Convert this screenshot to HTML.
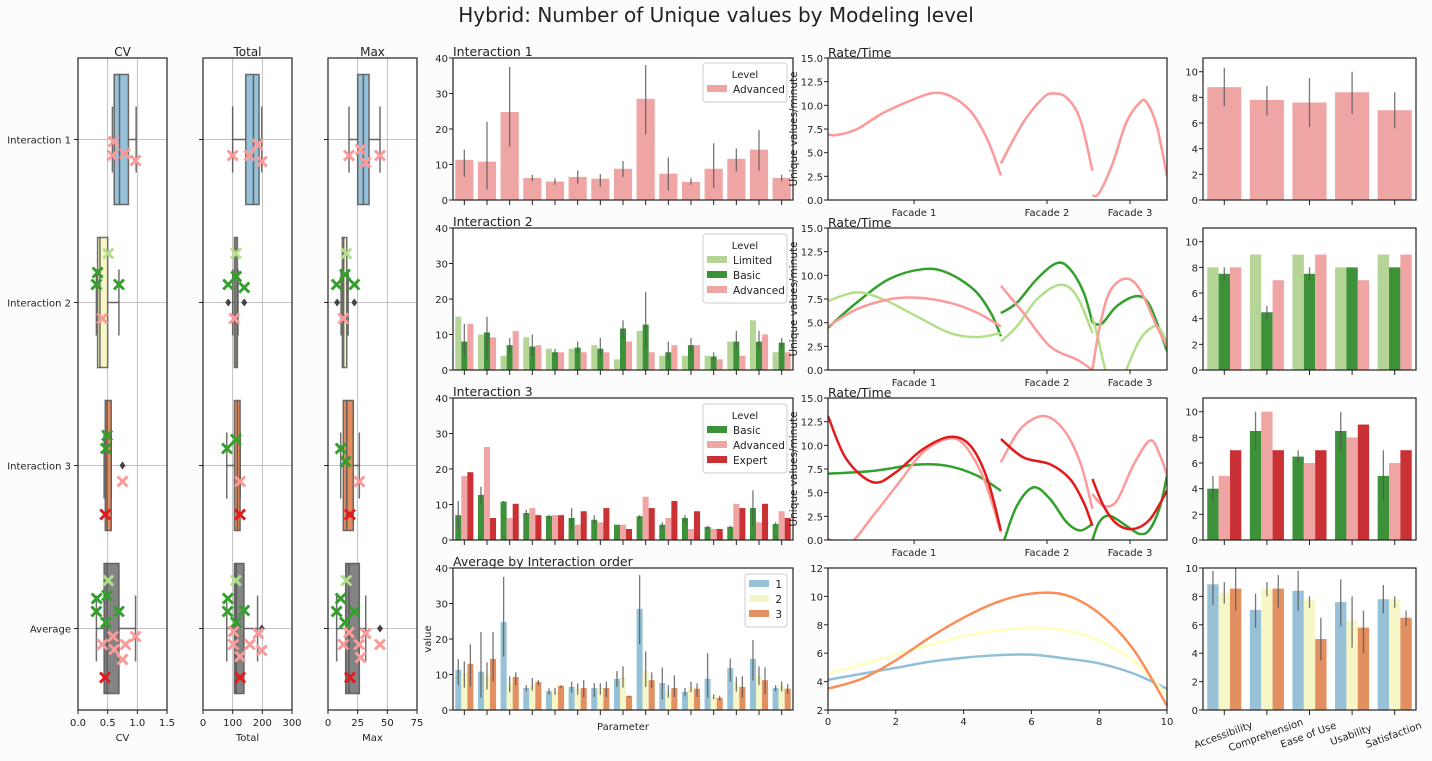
<!DOCTYPE html>
<html><head><meta charset="utf-8">
<style>
html,body{margin:0;padding:0;background:#fcfcfc;}
svg{display:block;font-family:"DejaVu Sans","Liberation Sans",sans-serif;}
text{fill:#222;}
</style></head>
<body>
<svg id="chart" width="1432" height="761" viewBox="0 0 1432 761" xmlns="http://www.w3.org/2000/svg">
<text x="716" y="22" text-anchor="middle" font-size="20">Hybrid: Number of Unique values by Modeling level</text>
</svg>
<script>
// ---------------- DATA ----------------
const boxRows = ["Interaction 1","Interaction 2","Interaction 3","Average"];
const boxColors = ["#97c1d9","#f7f7c6","#e48c5e","#848484"];
// [q1, median, q3, whiskerLow, whiskerHigh] per row
const cvBoxes = [[0.61,0.70,0.85,0.58,0.98],[0.33,0.37,0.50,0.31,0.69],[0.46,0.49,0.56,0.44,0.56],[0.44,0.49,0.69,0.31,0.97]];
const totalBoxes = [[144,170,189,100,198],[106,111,116,100,118],[106,116,125,80,125],[106,112,138,80,184]];
const maxBoxes = [[25,29.8,34.6,17.7,43.8],[12.1,13.2,15.8,11,17],[12.9,15.8,21.3,10.7,26.4],[14.9,17.7,26.4,7.3,31.8]];
const cvOutliers = [[2,0.75]];
const totalOutliers = [[1,85],[1,139],[3,198]];
const maxOutliers = [[1,7.7],[1,22.2],[3,43.8]];
const cvLimited = [[1,0.51,-49],[3,0.51,-48]];
const cvBasic = [[1,0.33,-30],[1,0.31,-18],[1,0.69,-18],[2,0.49,-30],[2,0.47,-17],[3,0.315,-30],[3,0.49,-33],[3,0.31,-17],[3,0.69,-17],[3,0.47,-6]];
const cvAdvanced = [[0,0.60,2],[0,0.58,16],[0,0.79,14],[0,0.97,21],[1,0.41,16],[2,0.75,16],[3,0.59,8],[3,0.41,16],[3,0.61,21],[3,0.80,16],[3,0.97,8],[3,0.75,31]];
const cvExpert = [[2,0.46,49],[3,0.455,49]];
const totalLimited = [[1,111,-49],[3,111,-48]];
const totalBasic = [[1,112,-26],[1,85,-18],[1,139,-15],[2,111,-26],[2,81,-17],[3,84,-30],[3,83,-17],[3,139,-18],[3,111,-6]];
const totalAdvanced = [[0,100,16],[0,156,16],[0,184,5],[0,198,22],[1,106,16],[2,125,16],[3,103,3],[3,102,16],[3,125,28],[3,158,16],[3,186,5],[3,198,22]];
const totalExpert = [[2,125,49],[3,125,49]];
const maxLimited = [[1,15.4,-49],[3,15.4,-48]];
const maxBasic = [[1,14.3,-28],[1,7.3,-18],[1,22.2,-18],[2,10.7,-17],[2,14.9,-4],[3,10.7,-30],[3,7.3,-17],[3,22.2,-17],[3,14.3,-6]];
const maxAdvanced = [[0,17.7,16],[0,27.5,10],[0,31.8,23],[0,43.8,16],[1,12.9,16],[2,26.4,16],[3,17.7,4],[3,12.9,16],[3,26.2,16],[3,27.5,29],[3,31.8,5],[3,43.8,16]];
const maxExpert = [[2,18.5,49],[3,18.5,49]];

const i1Adv = [11.3,10.8,24.8,6.2,5.2,6.5,6.0,8.8,28.5,7.4,5.1,8.8,11.6,14.2,6.2];
const i1AdvErr = [[6.5,14.2],[3,22],[15,37.5],[5.3,7.1],[4.3,6.1],[4.6,8.3],[3.8,7.3],[6.5,11],[18.5,38],[2.7,12],[4.3,6.1],[3.4,16],[8,14.5],[8.3,19.7],[5.3,7.1]];
const i2Lim = [15,10,4,9.2,6,6,7,3,11,4,4,4,8,14,5];
const i2Bas = [8,10.6,7,6.6,5,6.3,6,11.7,12.8,5,7,3.8,8,8,7.7];
const i2BasErr = [[4,13],[3,15],[5,9],[4,10],[4,6],[5,8],[4,9],[9,14],[6,22],[3,8],[5,9],[3,5],[6,11],[6,11],[6,9]];
const i2Adv = [13,9.2,11,7,5,5,5,8,5,7,7,3,4,10,5];
const i3Bas = [7,12.7,10.8,7.6,6.8,6.2,5.7,4.3,6.7,4.3,6.2,3.7,3.7,9,4.5];
const i3BasErr = [[3,11],[10,15],[10.5,11],[7,8.5],[6,7],[3,9],[4.5,7],[4.3,4.3],[6,7],[3,5],[5,7],[3,4],[3.5,4],[4,14],[4,5]];
const i3Adv = [18,26.2,6.2,9,7,4.3,5,4.3,12.2,6.2,3.1,3.1,10.2,5,8.1];
const i3Exp = [19.1,6.2,10.2,7,7,8.1,9,3.1,9,11,8.1,3.1,9,10.2,6.2];
const avg1 = [11.3,10.8,24.8,6.2,5.3,6.5,6.2,8.8,28.5,7.6,5.1,8.8,11.8,14.4,6.2];
const avg1Err = [[7,14.3],[3.5,22],[15,37.5],[5.3,7],[4.3,6.1],[4.9,8],[3.7,7.6],[6.5,11],[18.5,38],[3,12],[3.8,6.2],[3.4,16],[8,14.5],[8.3,19.7],[5.3,7]];
const avg2 = [10.4,10.1,7.3,7.2,5.4,6.0,6.2,9.3,11.1,5.4,6.5,3.8,7.4,9.6,6.8];
const avg2Err = [[6.3,13.7],[5.8,13.4],[5,9.5],[5.5,9],[4.3,6.2],[4.3,7.5],[4.3,7.5],[6.3,12.3],[6.5,16.5],[3.5,7],[5,8],[3,4.4],[5.2,9.3],[7,12.3],[5.3,8]];
const avg3 = [13,14.4,9.3,7.9,6.8,6.2,6.2,4,8.4,6.2,6,3.4,6.5,8.4,6];
const avg3Err = [[6.6,18.5],[8,22],[7,10.6],[7,8.4],[6.2,7],[3.5,8.4],[3.7,8],[3.4,4],[6.3,10.6],[3.7,9.8],[3.7,7.5],[2.7,4],[3.5,9.5],[4.4,12],[4.5,7.3]];
const barTicks = [0,10,20,30,40];

const facadeLabels = ["Facade 1","Facade 2","Facade 3"];
const facadePos = [0.254,0.646,0.891];
const rateTicks = [0,2.5,5,7.5,10,12.5,15];
const r1Adv = [
 [[0,6.93],[0.025,6.86],[0.084,7.46],[0.163,9.2],[0.25,10.6],[0.31,11.3],[0.36,11.0],[0.42,9.4],[0.47,6.4],[0.51,2.6]],
 [[0.51,3.86],[0.576,8.2],[0.635,10.8],[0.665,11.25],[0.704,10.8],[0.744,8.5],[0.78,3.1]],
 [[0.78,0.46],[0.80,0.74],[0.84,3.9],[0.88,8.2],[0.92,10.3],[0.94,10.3],[0.97,7.8],[1.0,2.5]]];
const r2Bas = [
 [[0,4.46],[0.084,7.1],[0.18,9.6],[0.28,10.65],[0.35,10.3],[0.43,8.5],[0.48,6.05],[0.51,3.57]],
 [[0.51,6.0],[0.557,7.1],[0.616,9.6],[0.675,11.3],[0.714,10.65],[0.754,8.2],[0.78,5.0]],
 [[0.78,5.0],[0.808,4.9],[0.852,6.75],[0.911,7.8],[0.95,6.75],[1.0,2.0]]];
const r2Lim = [
 [[0,7.3],[0.084,8.2],[0.163,7.46],[0.26,5.7],[0.36,3.9],[0.44,3.47],[0.51,3.9]],
 [[0.51,3.0],[0.557,4.6],[0.616,7.46],[0.685,9.0],[0.734,7.8],[0.78,3.9]],
 [[0.78,5.5],[0.793,3.9],[0.818,0],[0.84,-2.5],[0.86,-2.2],[0.88,0],[0.92,3.2],[0.96,4.6],[0.98,4.3],[1.0,2.9]]];
const r2Adv = [
 [[0,4.6],[0.084,6.4],[0.18,7.46],[0.26,7.64],[0.36,7.1],[0.44,6.05],[0.51,4.6]],
 [[0.51,8.9],[0.576,6.05],[0.655,2.5],[0.734,1.1],[0.78,0]],
 [[0.78,0],[0.80,4.3],[0.83,8.2],[0.877,9.65],[0.92,8.5],[0.97,4.6],[1.0,2.5]]];
const r3Bas = [
 [[0,7.0],[0.133,7.3],[0.26,7.96],[0.35,7.85],[0.44,6.8],[0.51,5.2]],
 [[0.52,0],[0.557,3.6],[0.606,5.56],[0.655,4.33],[0.704,1.87],[0.744,1.0],[0.78,1.7]],
 [[0.78,0],[0.80,1.87],[0.83,2.57],[0.88,1.5],[0.92,0.63],[0.95,1.16],[0.98,3.6],[1.0,6.8]]];
const r3Exp = [
 [[0,13.1],[0.054,8.56],[0.133,6.1],[0.2,7.15],[0.28,9.6],[0.36,10.9],[0.42,9.96],[0.47,6.44],[0.51,0.99]],
 [[0.51,10.67],[0.576,8.73],[0.655,8.0],[0.714,6.44],[0.754,3.98],[0.78,1.5]],
 [[0.78,6.44],[0.813,3.6],[0.852,1.7],[0.90,1.16],[0.95,2.2],[1.0,5.2]]];
const r3Adv = [
 [[0,0.1],[0.064,-0.3],[0.133,2.57],[0.21,6.1],[0.28,9.26],[0.35,10.67],[0.40,10.14],[0.46,6.44],[0.51,0.8]],
 [[0.51,8.2],[0.567,11.7],[0.635,13.1],[0.694,11.7],[0.744,8.2],[0.78,3.3]],
 [[0.78,4.86],[0.813,3.6],[0.852,4.15],[0.90,7.85],[0.95,10.5],[0.98,8.9],[1.0,6.8]]];
const lineX = [0,1,2,3,4,5,6,7,8,9,10];
const line1 = [4.13,4.55,4.97,5.4,5.68,5.86,5.9,5.63,5.28,4.58,3.5];
const line2 = [4.6,5.2,5.9,6.6,7.2,7.6,7.8,7.6,6.9,5.5,3.1];
const line3 = [3.5,4.2,5.5,7.1,8.5,9.6,10.2,10.1,8.8,6.3,2.3];
const lineXTicks = [0,2,4,6,8,10];
const lineYTicks = [2,4,6,8,10,12];

const metrics = ["Accessibility","Comprehension","Ease of Use","Usability","Satisfaction"];
const m1Adv = [8.8,7.8,7.6,8.4,7.0];
const m1AdvErr = [[7.3,10.3],[6.6,8.9],[5.7,9.5],[6.7,10],[5.6,8.4]];
const m2Lim = [8,9,9,8,9];
const m2Bas = [7.5,4.5,7.5,8,8];
const m2BasErr = [[7,8],[4,5],[7,8],null,null];
const m2Adv = [8,7,9,7,9];
const m3Bas = [4,8.5,6.5,8.5,5];
const m3BasErr = [[3,5],[7,10],[6,7],[7,10],[3,7]];
const m3Adv = [5,10,6,8,6];
const m3Exp = [7,7,7,9,7];
const m4a = [8.85,7.05,8.4,7.6,7.8];
const m4aErr = [[7.4,9.8],[5.8,8.2],[7,9.8],[5.9,9.2],[6.8,8.8]];
const m4b = [8.25,8.55,7.75,6.3,7.75];
const m4bErr = [[7.5,9],[8,9],[7.2,8],[4.4,8],[7.2,8]];
const m4c = [8.55,8.55,5.0,5.8,6.5];
const m4cErr = [[7,10],[7.2,9.5],[3.5,6.5],[4,7],[5.9,7]];
const mTicksA = [0,2,4,6,8,10];

// ---------------- DRAWING ----------------
const svg = document.getElementById('chart');
const NS = 'http://www.w3.org/2000/svg';
function mk(tag, attrs, parent) {
  const e = document.createElementNS(NS, tag);
  for (const k in attrs) e.setAttribute(k, attrs[k]);
  (parent || svg).appendChild(e);
  return e;
}
function txt(x, y, s, size, anchor, parent) {
  const t = mk('text', {x: x, y: y, 'font-size': size, 'text-anchor': anchor || 'start'}, parent);
  t.textContent = s;
  return t;
}
function lin(d0, d1, r0, r1) { return v => r0 + (v - d0) / (d1 - d0) * (r1 - r0); }
function frame(g, x0, y0, x1, y1) {
  const r = mk('rect', {x: x0, y: y0, width: x1 - x0, height: y1 - y0, fill: 'none', stroke: '#222', 'stroke-width': 1.2}, g);
  
  
}
const PINK = '#fb9a99', GREEN = '#33a02c', LGREEN = '#b2df8a', RED = '#e31a1c';

const BY0 = 58, BY1 = 710;
const rowY = i => BY0 + 81.5 + 163 * i;
function boxPanel(name, x0, x1, dmax, ticks, fmt, boxes, outliers, mks, showLabels) {
  const g = mk('g', {});
  
  
  const sx = lin(0, dmax, x0, x1);
  mk('rect', {x: x0, y: BY0, width: x1 - x0, height: BY1 - BY0, fill: '#fff'}, g);
  ticks.forEach(t => {
    mk('line', {x1: sx(t), x2: sx(t), y1: BY0, y2: BY1, stroke: '#b0b0b0', 'stroke-width': 0.8}, g);
    mk('line', {x1: sx(t), x2: sx(t), y1: BY1, y2: BY1 + 4, stroke: '#222'}, g);
    const tl = txt(sx(t), BY1 + 16, fmt(t), 10, 'middle', g);
    
    
  });
  boxRows.forEach((r, i) => {
    mk('line', {x1: x0, x2: x1, y1: rowY(i), y2: rowY(i), stroke: '#b0b0b0', 'stroke-width': 0.8}, g);
    mk('line', {x1: x0 - 4, x2: x0, y1: rowY(i), y2: rowY(i), stroke: '#222'}, g);
    if (showLabels) {
      const yl = txt(x0 - 7, rowY(i) + 4, r, 10, 'end', g);
      
      
    }
  });
  boxes.forEach((b, i) => {
    const cy = rowY(i);
    const bg = mk('g', {stroke: '#555', 'stroke-width': 1.5, 'stroke-opacity': 0.85}, g);
    
    
    mk('line', {x1: sx(b[3]), x2: sx(b[0]), y1: cy, y2: cy}, bg);
    mk('line', {x1: sx(b[2]), x2: sx(b[4]), y1: cy, y2: cy}, bg);
    mk('line', {x1: sx(b[3]), x2: sx(b[3]), y1: cy - 33, y2: cy + 33}, bg);
    mk('line', {x1: sx(b[4]), x2: sx(b[4]), y1: cy - 33, y2: cy + 33}, bg);
    mk('rect', {x: sx(b[0]), y: cy - 65, width: sx(b[2]) - sx(b[0]), height: 130, fill: boxColors[i]}, bg);
    mk('line', {x1: sx(b[1]), x2: sx(b[1]), y1: cy - 65, y2: cy + 65}, bg);
  });
  outliers.forEach(o => {
    const d = mk('path', {d: `M${sx(o[1])},${rowY(o[0]) - 4}l3,4l-3,4l-3,-4z`, fill: '#444'}, g);
    
    
  });
  mks.forEach(set => {
    set.pts.forEach(p => {
      const x = sx(p[1]), y = rowY(p[0]) + p[2];
      const m = mk('path', {d: `M${x - 5},${y - 5}L${x + 5},${y + 5}M${x - 5},${y + 5}L${x + 5},${y - 5}`, stroke: set.c, 'stroke-width': 3}, g);
      
      
    });
  });
  frame(g, x0, BY0, x1, BY1);
  const t = txt((x0 + x1) / 2, 56, name, 12, 'middle', g);
  
  
  const xl = txt((x0 + x1) / 2, 741, name, 10, 'middle', g);
  
  
}
boxPanel('CV', 78, 167, 1.5, [0, 0.5, 1, 1.5], t => t.toFixed(1), cvBoxes, cvOutliers,
  [{pts: cvLimited, c: LGREEN}, {pts: cvBasic, c: GREEN}, {pts: cvAdvanced, c: PINK}, {pts: cvExpert, c: RED}], true);
boxPanel('Total', 203, 292, 300, [0, 100, 200, 300], String, totalBoxes, totalOutliers,
  [{pts: totalLimited, c: LGREEN}, {pts: totalBasic, c: GREEN}, {pts: totalAdvanced, c: PINK}, {pts: totalExpert, c: RED}], false);
boxPanel('Max', 328, 417, 75, [0, 25, 50, 75], String, maxBoxes, maxOutliers,
  [{pts: maxLimited, c: LGREEN}, {pts: maxBasic, c: GREEN}, {pts: maxAdvanced, c: PINK}, {pts: maxExpert, c: RED}], false);

function barPanel(name, x0, x1, y0, y1, ymax, ticks, series, cats) {
  const g = mk('g', {});
  
  
  mk('rect', {x: x0, y: y0, width: x1 - x0, height: y1 - y0, fill: '#fff'}, g);
  const sy = lin(0, ymax, y1, y0);
  const n = cats;
  const cw = (x1 - x0) / n;
  const bw = cw * 0.8 / series.length;
  ticks.forEach(t => {
    mk('line', {x1: x0 - 4, x2: x0, y1: sy(t), y2: sy(t), stroke: '#222'}, g);
    const tl = txt(x0 - 5, sy(t) + 4, String(t), 10, 'end', g);
    
    
  });
  for (let i = 0; i < n; i++) {
    const cx = x0 + cw * (i + 0.5);
    mk('line', {x1: cx, x2: cx, y1: y1, y2: y1 + 5, stroke: '#222'}, g);
  }
  series.forEach((s, si) => {
    s.vals.forEach((v, i) => {
      const bx = x0 + cw * i + cw * 0.1 + bw * si;
      const r = mk('rect', {x: bx, y: sy(v), width: bw, height: y1 - sy(v), fill: s.c}, g);
      
      
      if (s.err && s.err[i]) {
        const e = mk('line', {x1: bx + bw / 2, x2: bx + bw / 2, y1: sy(s.err[i][0]), y2: sy(s.err[i][1]), stroke: '#555', 'stroke-width': 1.3, 'stroke-opacity': 0.8}, g);
        
        
      }
    });
  });
  frame(g, x0, y0, x1, y1);
  return g;
}
function legend(x, y, w, title, items) {
  const g = mk('g', {});
  
  
  const h = (title ? 20 : 4) + items.length * 15 + 4;
  mk('rect', {x: x, y: y, width: w, height: h, rx: 3, fill: '#fff', 'fill-opacity': 0.85, stroke: '#ccc'}, g);
  let yy = y + 4;
  if (title) { txt(x + w / 2, y + 15, title, 10, 'middle', g); yy = y + 20; }
  items.forEach(it => {
    const p = mk('rect', {x: x + 4, y: yy + 2, width: 20, height: 7, fill: it.c}, g);
    
    
    const t = txt(title ? x + 30 : x + w - 5, yy + 10, it.l, 10.5, title ? 'start' : 'end', g);
    
    
    yy += 15;
  });
}
const BP = '#f0a5a5', BG = '#3d9139', BLG = '#b5d596', BR = '#c93135', BB = '#97c1d6', BYl = '#f6f6c6', BO = '#e28f62';
const MX0 = 453, MX1 = 793;
const rows = [[58, 200], [228, 370], [398, 540], [568, 710]];
barPanel('interaction-1-bars', MX0, MX1, rows[0][0], rows[0][1], 40, barTicks, [{vals: i1Adv, err: i1AdvErr, c: BP}], 15);
barPanel('interaction-2-bars', MX0, MX1, rows[1][0], rows[1][1], 40, barTicks, [{vals: i2Lim, c: BLG}, {vals: i2Bas, err: i2BasErr, c: BG}, {vals: i2Adv, c: BP}], 15);
barPanel('interaction-3-bars', MX0, MX1, rows[2][0], rows[2][1], 40, barTicks, [{vals: i3Bas, err: i3BasErr, c: BG}, {vals: i3Adv, c: BP}, {vals: i3Exp, c: BR}], 15);
barPanel('average-bars', MX0, MX1, rows[3][0], rows[3][1], 40, barTicks, [{vals: avg1, err: avg1Err, c: BB}, {vals: avg2, err: avg2Err, c: BYl}, {vals: avg3, err: avg3Err, c: BO}], 15);
[['Interaction 1', 0], ['Interaction 2', 1], ['Interaction 3', 2], ['Average by Interaction order', 3]].forEach(a => {
  const t = txt(MX0, rows[a[1]][0] - 2, a[0], 12.5, 'start');
  
  
});
legend(703, 63, 84, 'Level', [{l: 'Advanced', c: BP}]);
legend(703, 234, 84, 'Level', [{l: 'Limited', c: BLG}, {l: 'Basic', c: BG}, {l: 'Advanced', c: BP}]);
legend(703, 404, 84, 'Level', [{l: 'Basic', c: BG}, {l: 'Advanced', c: BP}, {l: 'Expert', c: BR}]);
legend(745, 574, 42, '', [{l: '1', c: BB}, {l: '2', c: BYl}, {l: '3', c: BO}]);
const pl = txt(623, 730, 'Parameter', 10, 'middle');


const vl = mk('text', {x: 0, y: 0, 'font-size': 10, 'text-anchor': 'middle', transform: 'translate(431,639) rotate(-90)'});
vl.textContent = 'value';



function smooth(pts) {
  let d = `M${pts[0][0]},${pts[0][1]}`;
  for (let i = 0; i < pts.length - 1; i++) {
    const p0 = pts[Math.max(0, i - 1)], p1 = pts[i], p2 = pts[i + 1], p3 = pts[Math.min(pts.length - 1, i + 2)];
    const c1 = [p1[0] + (p2[0] - p0[0]) / 6, p1[1] + (p2[1] - p0[1]) / 6];
    const c2 = [p2[0] - (p3[0] - p1[0]) / 6, p2[1] - (p3[1] - p1[1]) / 6];
    d += `C${c1[0]},${c1[1]} ${c2[0]},${c2[1]} ${p2[0]},${p2[1]}`;
  }
  return d;
}
const RX0 = 828, RX1 = 1167;
function ratePanel(ri, curves) {
  const y0 = rows[ri][0], y1 = rows[ri][1];
  const g = mk('g', {});
  
  
  mk('rect', {x: RX0, y: y0, width: RX1 - RX0, height: y1 - y0, fill: '#fff'}, g);
  const sx = lin(0, 1, RX0, RX1), sy = lin(0, 15, y1, y0);
  const cid = 'clip' + ri;
  const cp = mk('clipPath', {id: cid}, g);
  mk('rect', {x: RX0, y: y0, width: RX1 - RX0, height: y1 - y0}, cp);
  rateTicks.forEach(t => {
    mk('line', {x1: RX0 - 4, x2: RX0, y1: sy(t), y2: sy(t), stroke: '#222'}, g);
    const tl = txt(RX0 - 5, sy(t) + 4, t.toFixed(1), 10, 'end', g);
    
    
  });
  facadeLabels.forEach((f, i) => {
    mk('line', {x1: sx(facadePos[i]), x2: sx(facadePos[i]), y1: y1, y2: y1 + 4, stroke: '#222'}, g);
    const tl = txt(sx(facadePos[i]), y1 + 16, f, 10, 'middle', g);
    
    
  });
  curves.forEach(c => {
    c.segs.forEach(seg => {
      const p = mk('path', {d: smooth(seg.map(q => [sx(q[0]), sy(q[1])])), fill: 'none', stroke: c.c, 'stroke-width': 2.5, 'clip-path': `url(#${cid})`}, g);
      
      
    });
  });
  frame(g, RX0, y0, RX1, y1);
  const t = txt(RX0, y0 - 1, 'Rate/Time', 12.5, 'start', g);
  
  
  const yl = mk('text', {x: 0, y: 0, 'font-size': 10.5, 'text-anchor': 'middle', transform: `translate(797,${(y0 + y1) / 2}) rotate(-90)`}, g);
  yl.textContent = 'Unique values/minute';
  
  
}
ratePanel(0, [{segs: r1Adv, c: PINK}]);
ratePanel(1, [{segs: r2Bas, c: GREEN}, {segs: r2Lim, c: LGREEN}, {segs: r2Adv, c: PINK}]);
ratePanel(2, [{segs: r3Bas, c: GREEN}, {segs: r3Adv, c: PINK}, {segs: r3Exp, c: RED}]);

(function () {
  const y0 = rows[3][0], y1 = rows[3][1];
  const g = mk('g', {});
  
  
  mk('rect', {x: RX0, y: y0, width: RX1 - RX0, height: y1 - y0, fill: '#fff'}, g);
  const sx = lin(0, 10, RX0, RX1), sy = lin(2, 12, y1, y0);
  lineYTicks.forEach(t => {
    mk('line', {x1: RX0 - 4, x2: RX0, y1: sy(t), y2: sy(t), stroke: '#222'}, g);
    const tl = txt(RX0 - 5, sy(t) + 4, String(t), 10, 'end', g);
    
    
  });
  lineXTicks.forEach(t => {
    mk('line', {x1: sx(t), x2: sx(t), y1: y1, y2: y1 + 4, stroke: '#222'}, g);
    const tl = txt(sx(t), y1 + 15, String(t), 10, 'middle', g);
    
    
  });
  [[line1, '#91bfdb'], [line2, '#ffffbf'], [line3, '#fc8d59']].forEach(a => {
    const p = mk('path', {d: smooth(lineX.map((x, i) => [sx(x), sy(a[0][i])])), fill: 'none', stroke: a[1], 'stroke-width': 2.5}, g);
    
    
  });
  frame(g, RX0, y0, RX1, y1);
})();

const QX0 = 1203, QX1 = 1416;
const f11 = [0, 2, 4, 6, 8, 10];
barPanel('metric-bars-1', QX0, QX1, rows[0][0], rows[0][1], 11.07, f11, [{vals: m1Adv, err: m1AdvErr, c: BP}], 5);
barPanel('metric-bars-2', QX0, QX1, rows[1][0], rows[1][1], 11.07, f11, [{vals: m2Lim, c: BLG}, {vals: m2Bas, err: m2BasErr, c: BG}, {vals: m2Adv, c: BP}], 5);
barPanel('metric-bars-3', QX0, QX1, rows[2][0], rows[2][1], 11.07, f11, [{vals: m3Bas, err: m3BasErr, c: BG}, {vals: m3Adv, c: BP}, {vals: m3Exp, c: BR}], 5);
barPanel('metric-bars-average', QX0, QX1, rows[3][0], rows[3][1], 10, mTicksA, [{vals: m4a, err: m4aErr, c: BB}, {vals: m4b, err: m4bErr, c: BYl}, {vals: m4c, err: m4cErr, c: BO}], 5);
metrics.forEach((m, i) => {
  const cx = QX0 + (QX1 - QX0) / 5 * (i + 0.5);
  const t = mk('text', {x: 0, y: 0, 'font-size': 10, 'text-anchor': 'middle', transform: `translate(${cx},${rows[3][1] + 28}) rotate(-20)`});
  t.textContent = m;
  
  
});
</script>
</body></html>
